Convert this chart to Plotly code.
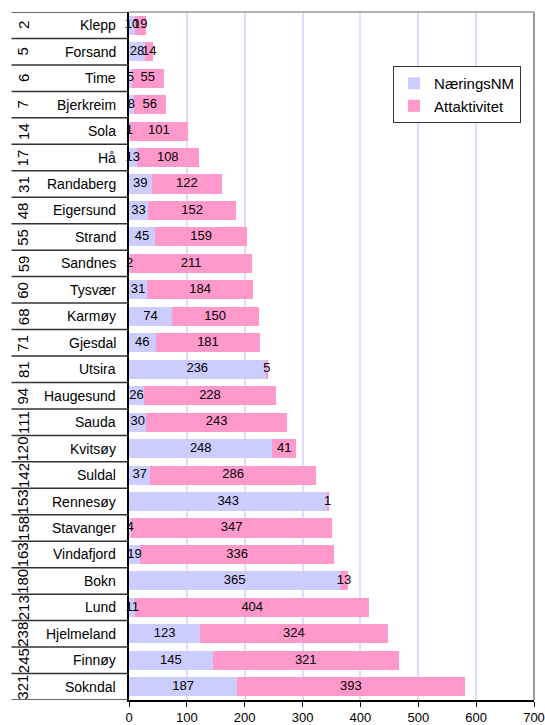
import plotly.graph_objects as go

# Municipalities ranked, top to bottom
ranks = [2, 5, 6, 7, 14, 17, 31, 48, 55, 59, 60, 68, 71, 81, 94, 111, 120, 142,
         153, 158, 163, 180, 213, 238, 245, 321]
names = ["Klepp", "Forsand", "Time", "Bjerkreim", "Sola", "Hå", "Randaberg",
         "Eigersund", "Strand", "Sandnes", "Tysvær", "Karmøy", "Gjesdal", "Utsira",
         "Haugesund", "Sauda", "Kvitsøy", "Suldal", "Rennesøy", "Stavanger",
         "Vindafjord", "Bokn", "Lund", "Hjelmeland", "Finnøy", "Sokndal"]
naering = [10, 28, 5, 8, 1, 13, 39, 33, 45, 2, 31, 74, 46, 236, 26, 30, 248, 37,
           343, 4, 19, 365, 11, 123, 145, 187]
attakt = [19, 14, 55, 56, 101, 108, 122, 152, 159, 211, 184, 150, 181, 5, 228,
          243, 41, 286, 1, 347, 336, 13, 404, 324, 321, 393]
x_ticks = [0, 100, 200, 300, 400, 500, 600, 700]

FONT = "Arial, Liberation Sans, sans-serif"
C_NM = "#CCCCFF"
C_ATT = "#FF99CC"

fig = go.Figure()
fig.add_trace(go.Bar(y=names, x=naering, orientation="h", name="NæringsNM",
                     marker=dict(color=C_NM, line=dict(width=0))))
fig.add_trace(go.Bar(y=names, x=attakt, orientation="h", name="Attaktivitet",
                     marker=dict(color=C_ATT, line=dict(width=0))))

# Value labels centred in each segment
mid_nm = [v / 2 for v in naering]
mid_att = [a + b / 2 for a, b in zip(naering, attakt)]
fig.add_trace(go.Scatter(x=mid_nm + mid_att, y=names + names, mode="text",
                         text=[str(v) for v in naering + attakt],
                         textfont=dict(family=FONT, size=13, color="black"),
                         showlegend=False, cliponaxis=False, hoverinfo="skip"))

annotations = []
shapes = []
n = len(names)
for i, (r, nm) in enumerate(zip(ranks, names)):
    annotations.append(dict(x=-0.027, y=i, xref="paper", yref="y", text=nm,
                            showarrow=False, xanchor="right", yanchor="middle",
                            font=dict(family=FONT, size=14, color="black")))
    annotations.append(dict(x=-0.262, y=i, xref="paper", yref="y", text=str(r),
                            showarrow=False, textangle=-90, xanchor="center",
                            yanchor="middle",
                            font=dict(family=FONT, size=15, color="black")))
for k in range(n + 1):
    shapes.append(dict(type="line", xref="paper", yref="y", x0=-0.29, x1=0,
                       y0=k - 0.5, y1=k - 0.5, line=dict(color="#333333", width=1.5)))
# plot-area frame on top and right
shapes.append(dict(type="line", xref="paper", yref="paper", x0=0, x1=1, y0=1, y1=1,
                   line=dict(color="#999999", width=1.5)))
shapes.append(dict(type="line", xref="paper", yref="paper", x0=1, x1=1, y0=0, y1=1,
                   line=dict(color="#999999", width=2)))

fig.update_layout(
    width=545, height=725,
    margin=dict(l=129, r=11, t=12, b=25),
    barmode="stack", bargap=0.28,
    plot_bgcolor="white", paper_bgcolor="white",
    font=dict(family=FONT, size=13, color="black"),
    xaxis=dict(range=[0, 700], tickvals=x_ticks, showgrid=True,
               gridcolor="#DDDDFF", gridwidth=1.5, zeroline=False,
               showline=True, linecolor="black", linewidth=1.5,
               ticks="outside", ticklen=5, tickcolor="black",
               ticklabeloverflow="allow", automargin=False,
               tickfont=dict(family=FONT, size=13, color="black")),
    yaxis=dict(range=[n - 0.5, -0.5], showticklabels=False, showgrid=False,
               showline=True, linecolor="black", linewidth=1.5, ticks="",
               zeroline=False, automargin=False),
    legend=dict(x=0.652, y=0.9215, xanchor="left", yanchor="top",
                bgcolor="white", bordercolor="#333333", borderwidth=1,
                font=dict(family=FONT, size=15, color="black"),
                traceorder="normal", tracegroupgap=2),
    annotations=annotations, shapes=shapes,
)

fig.write_html("out.html")
